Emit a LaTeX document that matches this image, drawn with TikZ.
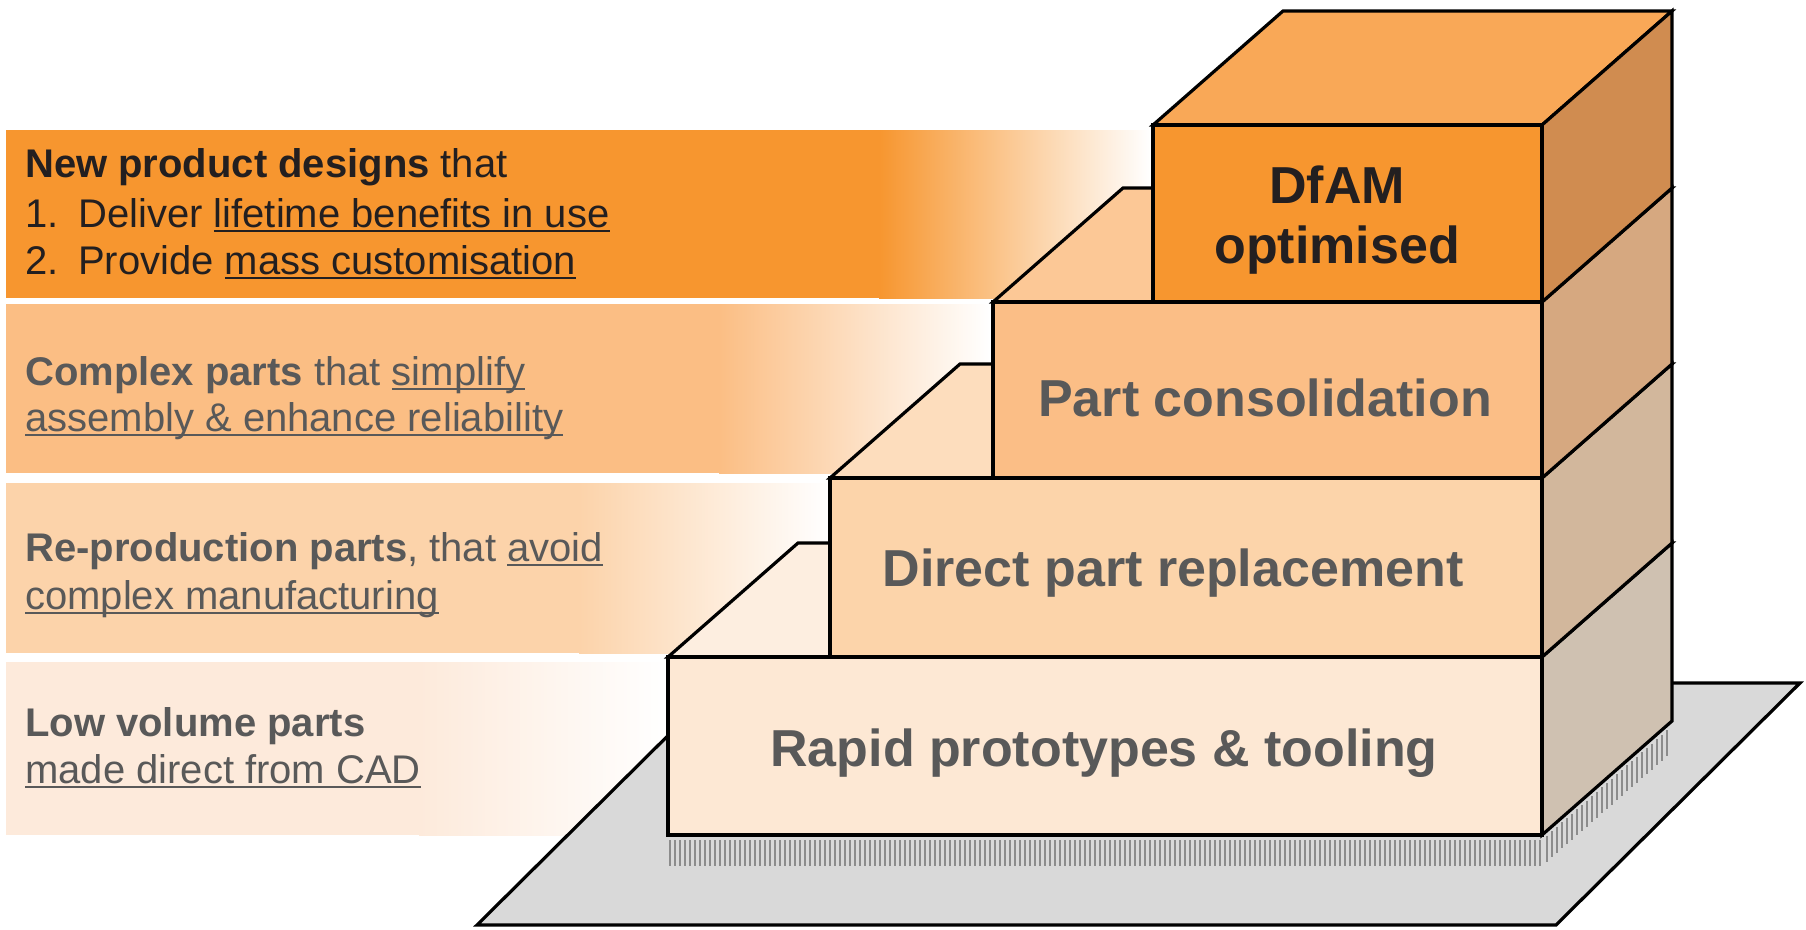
\documentclass[tikz,border=0pt]{standalone}
\usepackage{fontspec}
\setmainfont{Liberation Sans}
\newsavebox{\ulbox}
\newcommand{\myul}[1]{\leavevmode\sbox{\ulbox}{#1}\rlap{\rule[-5pt]{\wd\ulbox}{1.6pt}}\usebox{\ulbox}}
\definecolor{bandA}{HTML}{F7962F}
\definecolor{bandB}{HTML}{FBBE84}
\definecolor{bandC}{HTML}{FCD3AA}
\definecolor{bandD}{HTML}{FDEADB}
\definecolor{frontA}{HTML}{F7962F}
\definecolor{topA}{HTML}{F9A857}
\definecolor{sideA}{HTML}{D08C50}
\definecolor{frontB}{HTML}{FBBE86}
\definecolor{topB}{HTML}{FCC896}
\definecolor{sideB}{HTML}{D6A880}
\definecolor{frontC}{HTML}{FCD4AA}
\definecolor{topC}{HTML}{FDDDBD}
\definecolor{sideC}{HTML}{D2B79C}
\definecolor{frontD}{HTML}{FDE8D4}
\definecolor{topD}{HTML}{FDEEE0}
\definecolor{sideD}{HTML}{CFC1B1}
\definecolor{baseC}{HTML}{D9D9D9}
\definecolor{hatchC}{HTML}{8C8C8C}
\definecolor{darktext}{HTML}{231F20}
\definecolor{graytext}{HTML}{595959}
\begin{document}
\begin{tikzpicture}[x=1pt,y=-1pt,line join=miter,
  edge/.style={draw=black,line width=3.2pt},
  hatchline/.style={draw=hatchC,line width=1.3pt},
  lbl/.style={inner sep=0pt,text=graytext,font=\fontsize{52}{62}\selectfont\bfseries},
  lefttxt/.style={inner sep=0pt,anchor=base west,font=\fontsize{40}{48}\selectfont}]
\useasboundingbox (0,0) rectangle (1806,929);
% ---- left bands
\fill[bandA] (6,130) rectangle (880,298);
\shade[left color=bandA,right color=white] (879,130) rectangle (1150,298);
\fill[bandB] (6,304) rectangle (720,473);
\shade[left color=bandB,right color=white] (719,304) rectangle (990,473);
\fill[bandC] (6,483) rectangle (580,653);
\shade[left color=bandC,right color=white] (579,483) rectangle (830,653);
\fill[bandD] (6,662) rectangle (420,835);
\shade[left color=bandD,right color=white] (419,662) rectangle (668,835);
% ---- left texts
\node[lefttxt,text=darktext] (n1) at (25,177) {\textbf{New product designs} that};
\node[lefttxt,text=darktext] (n2) at (25,227) {\makebox[53pt][l]{1.}Deliver \myul{lifetime benefits in use}};
\node[lefttxt,text=darktext] (n3) at (25,274) {\makebox[53pt][l]{2.}Provide \myul{mass customisation}};
\node[lefttxt,text=graytext] (c1) at (25,385) {\textbf{Complex parts} that \myul{simplify}};
\node[lefttxt,text=graytext] (c2) at (25,431) {\myul{assembly \& enhance reliability}};
\node[lefttxt,text=graytext] (r1) at (25,561) {\textbf{Re-production parts}, that \myul{avoid}};
\node[lefttxt,text=graytext] (r2) at (25,609) {\myul{complex manufacturing}};
\node[lefttxt,text=graytext] (l1) at (25,736) {\textbf{Low volume parts}};
\node[lefttxt,text=graytext] (l2) at (25,783) {\myul{made direct from CAD}};
% ---- platform
\filldraw[fill=baseC,edge] (477,925) -- (1556,925) -- (1800,683) -- (721,683) -- cycle;
% ---- hatch shadow under the bottom block
\foreach \x in {670,675,...,1540} \draw[hatchline] (\x,840) -- (\x,866);
\foreach \x in {1547,1552,...,1667} {
  \pgfmathsetmacro{\yt}{835-(\x-1542)*114/130+5}
  \draw[hatchline] (\x,\yt) -- (\x,\yt+26);
}
% ---- block 1: Rapid prototypes
\filldraw[fill=topD,edge] (668,657) -- (1542,657) -- (1672,543) -- (798,543) -- cycle;
\filldraw[fill=sideD,edge] (1542,657) -- (1672,543) -- (1672,721) -- (1542,835) -- cycle;
\filldraw[fill=frontD,edge] (668,657) rectangle (1542,835);
% ---- block 2: Direct part replacement
\filldraw[fill=topC,edge] (830,478) -- (1542,478) -- (1672,364) -- (960,364) -- cycle;
\filldraw[fill=sideC,edge] (1542,478) -- (1672,364) -- (1672,543) -- (1542,657) -- cycle;
\filldraw[fill=frontC,edge] (830,478) rectangle (1542,657);
% ---- block 3: Part consolidation
\filldraw[fill=topB,edge] (993,302) -- (1542,302) -- (1672,188) -- (1123,188) -- cycle;
\filldraw[fill=sideB,edge] (1542,302) -- (1672,188) -- (1672,364) -- (1542,478) -- cycle;
\filldraw[fill=frontB,edge] (993,302) rectangle (1542,478);
% ---- block 4: DfAM optimised
\filldraw[fill=topA,edge] (1153,125) -- (1542,125) -- (1672,11) -- (1283,11) -- cycle;
\filldraw[fill=sideA,edge] (1542,125) -- (1672,11) -- (1672,188) -- (1542,302) -- cycle;
\filldraw[fill=frontA,edge] (1153,125) rectangle (1542,302);
% ---- block labels
\node[lbl,anchor=base] (b1) at (1104,766) {Rapid prototypes \& tooling};
\node[lbl,anchor=base] (b2) at (1173,586) {Direct part replacement};
\node[lbl,anchor=base] (b3) at (1265,416) {Part consolidation};
\node[lbl,anchor=base,text=darktext] (b4a) at (1337,203) {DfAM};
\node[lbl,anchor=base,text=darktext] (b4b) at (1337,263) {optimised};
\end{tikzpicture}
\end{document}
